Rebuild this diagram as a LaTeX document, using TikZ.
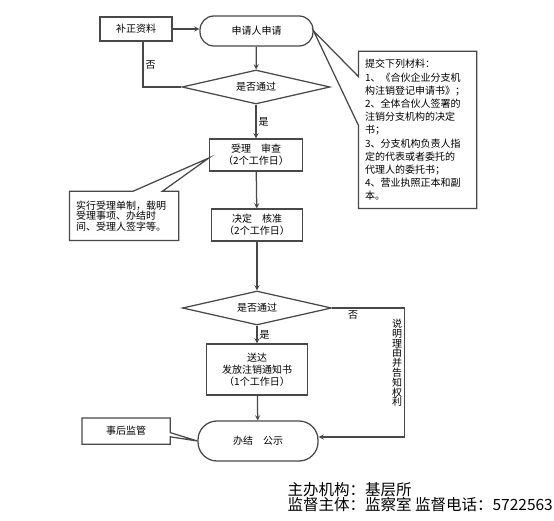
\documentclass[tikz,border=0pt]{standalone}
\usepackage{fontspec}
\setmainfont{Noto Sans CJK SC}
\usetikzlibrary{shapes.geometric,calc}
\definecolor{xiangui}{RGB}{72,72,72}

\begin{document}
\begin{tikzpicture}[x=1pt, y=-1pt, >=stealth, line width=1.25pt,
	ziti/.style={font=\fontsize{10}{12}\selectfont},
	kuang/.style={ziti, draw=xiangui, rectangle, inner sep=1pt, align=center},
	yuan/.style={kuang, rounded corners=14pt},
	panduan/.style={ziti, draw=xiangui, diamond, aspect=4.4, inner sep=1pt},
	shuoming/.style={ziti, inner ysep=4pt, inner xsep=6pt, align=left},
	biaoqian/.style={ziti, inner sep=2pt},
	jiantou/.style={->, draw=xiangui},
	xian/.style={draw=xiangui}]
	\useasboundingbox (0,0) rectangle (554,521);
	
	% 主流程
	\node[kuang, minimum width=72pt, minimum height=24pt] (buzheng) at (136,29) {补正资料};
	\node[yuan, minimum width=113pt, minimum height=30pt] (shenqing) at (256.5,31) {申请人申请};
	\node[panduan, minimum width=148pt, minimum height=34pt] (pan1) at (256,87) {是否通过};
	\node[kuang, minimum width=93pt, minimum height=32pt] (shouli) at (256,155) {受理　审查\\（2个工作日）};
	\node[kuang, minimum width=91pt, minimum height=32pt] (jueding) at (257,225) {决定　核准\\（2个工作日）};
	\node[panduan, minimum width=149pt, minimum height=34pt] (pan2) at (257,308) {是否通过};
	\node[kuang, minimum width=101pt, minimum height=51pt] (songda) at (257,369.5) {送达\\发放注销通知书\\（1个工作日）};
	\node[yuan, rounded corners=19pt, minimum width=120pt, minimum height=40pt] (banjie) at (258,441) {办结　公示};
	
	% 连线
	\draw[jiantou] (buzheng.east) -- (buzheng.east -| shenqing.west);
	\draw[xian] ([xshift=7pt]buzheng.south) |- (pan1.west) node[biaoqian, right, pos=0.26] (fou1) {否};
	\draw[jiantou] (shenqing) -- (pan1);
	\draw[jiantou] (pan1) -- (shouli) node[biaoqian, right, midway] (shi1) {是};
	\draw[jiantou] (shouli) -- (jueding);
	\draw[jiantou] (jueding) -- (pan2);
	\draw[jiantou] (pan2) -- (songda) node[biaoqian, right, midway] (shi2) {是};
	\draw[jiantou] (songda) -- (banjie);
	\draw[jiantou] (pan2.east) -- node[biaoqian, below, pos=0.29] (fou2) {否} ++(72.5,0) coordinate (guai) |- ([yshift=4pt]banjie.east);
	\node[ziti, font=\fontsize{10}{9.8}\selectfont, align=center, inner sep=0pt] (liyou) at (397,363) {说\\明\\理\\由\\并\\告\\知\\权\\利};
	
	% 材料说明
	\node[shuoming, text width=105pt, minimum height=156pt, font=\fontsize{10}{13.2}\selectfont] (cailiao) at (417.5,130) {提交下列材料：\\1、《合伙企业分支机\\构注销登记申请书》；\\2、全体合伙人签署的\\注销分支机构的决定\\书；\\3、分支机构负责人指\\定的代表或者委托的\\代理人的委托书；\\4、营业执照正本和副\\本。};
	\draw[xian] (cailiao.north west) -- (cailiao.north east) -- (cailiao.south east) -- (cailiao.south west)
		-- ($(cailiao.north west)!0.47!(cailiao.south west)$) -- (shenqing.east)
		-- ($(cailiao.north west)!0.16!(cailiao.south west)$) -- cycle;
	
	% 受理说明
	\node[shuoming, text width=96pt, minimum height=48pt, font=\fontsize{10}{10.5}\selectfont] (shouliji) at (124,216) {实行受理单制，载明\\受理事项、办结时\\间、受理人签字等。};
	\draw[xian] (shouliji.south west) -- (shouliji.north west)
		-- ($(shouliji.north west)!0.58!(shouliji.north east)$) -- ([yshift=-3pt]shouli.west)
		-- ($(shouliji.north west)!0.85!(shouliji.north east)$) -- (shouliji.north east)
		-- (shouliji.south east) -- cycle;
	
	% 事后监管
	\node[ziti, minimum width=87pt, minimum height=25pt, inner sep=1pt] (jianguan) at (126,431) {事后监管};
	\draw[xian] (jianguan.north east) -- (jianguan.north west) -- (jianguan.south west) -- (jianguan.south east)
		-- ($(jianguan.north east)!0.72!(jianguan.south east)$) -- (banjie.west)
		-- ($(jianguan.north east)!0.56!(jianguan.south east)$) -- cycle;
	
	% 底部信息
	\node[anchor=west, font=\fontsize{15.5}{15}\selectfont, inner sep=0pt] (zhuban) at (287,490) {主办机构：基层所};
	\node[anchor=west, font=\fontsize{15.5}{15}\selectfont, inner sep=0pt] (jiandu) at (287,505) {监督主体：监察室 监督电话：5722563};
\end{tikzpicture}
\end{document}
